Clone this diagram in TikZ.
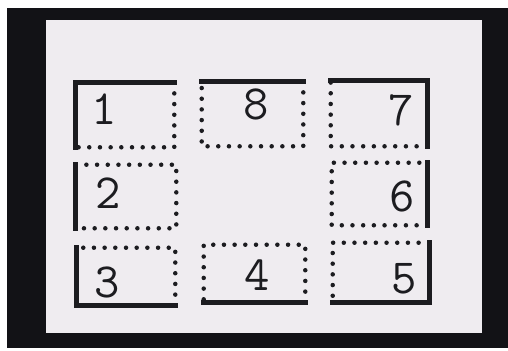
\documentclass[tikz,border=0pt]{standalone}
\usepackage{tikz}
\definecolor{paper}{RGB}{239,236,240}
\definecolor{framecol}{RGB}{18,18,22}
\definecolor{ink}{RGB}{28,28,32}

\begin{document}
\begin{tikzpicture}[
  x=0.25mm, y=-0.25mm,
  box/.style={                              % cell of the grid, sides drawn apart
    draw=none, rectangle, inner sep=0pt
  },
  wall/.style={draw=ink, line width=3.2pt, line cap=rect, line join=miter},
  gap/.style={                              % open side: a row of dots
    draw=ink, line width=3.2pt, line cap=round,
    dash pattern=on 0pt off 7.6pt
  },
  digit/.style={text=ink, font=\ttfamily\fontsize{35}{35}\selectfont, inner sep=0pt},
]

% ---- Frame and sheet ----
\useasboundingbox (0,0) rectangle (508,350);
\fill[white] (0,0) rectangle (508,350);
\fill[framecol] (7,8) rectangle (508,348);
\fill[paper] (46,20) rectangle (482,333);

% ---- Cells ----
\node (b1) at (125,115)   [box, minimum width=24.5mm,  minimum height=16mm]    {};
\node (b8) at (252.5,114) [box, minimum width=25.25mm, minimum height=16mm]    {};
\node (b7) at (379,113.5) [box, minimum width=24mm,    minimum height=16.25mm] {};

\node (b2) at (126,196.5) [box, minimum width=25mm,    minimum height=15.75mm] {};
\node (b6) at (379.5,194) [box, minimum width=23.75mm, minimum height=15.5mm]  {};

\node (b3) at (126,276.5) [box, minimum width=24.5mm,  minimum height=14.25mm] {};
\node (b4) at (254.5,273.5) [box, minimum width=25.25mm, minimum height=14.25mm] {};
\node (b5) at (381,272.5) [box, minimum width=24mm,    minimum height=14.75mm] {};

% ---- Numbers ----
\node (d1) at (104,109) [digit] {1};
\node (d8) at (256,104) [digit] {8};
\node (d7) at (401,110) [digit] {7};
\node (d2) at (108,193) [digit] {2};
\node (d6) at (402,196) [digit] {6};
\node (d3) at (107,282) [digit] {3};
\node (d4) at (257,275) [digit] {4};
\node (d5) at (404,279) [digit] {5};

% ---- Open sides (dotted) ----
\draw[gap] (b1.north east) -- (b1.south east) -- (b1.south west);
\draw[gap] (b8.north east) -- (b8.south east) -- (b8.south west) -- (b8.north west);
\draw[gap] (b7.south east) -- (b7.south west) -- (b7.north west);
\draw[gap] (b2.north west) -- (b2.north east) -- (b2.south east) -- (b2.south west);
\draw[gap] (b6.south east) -- (b6.south west) -- (b6.north west) -- (b6.north east);
\draw[gap] (b3.south east) -- (b3.north east) -- (b3.north west);
\draw[gap] (b4.south east) -- (b4.north east) -- (b4.north west) -- (b4.south west);
\draw[gap] (b5.north east) -- (b5.north west) -- (b5.south west);

% ---- Closed sides (solid) ----
\draw[wall] (b1.south west) -- (b1.north west) -- (b1.north east);
\draw[wall] (b8.north west) -- (b8.north east);
\draw[wall] (b7.north west) -- (b7.north east) -- (b7.south east);
\draw[wall] (b2.south west) -- (b2.north west);
\draw[wall] (b6.north east) -- (b6.south east);
\draw[wall] (b3.north west) -- (b3.south west) -- (b3.south east);
\draw[wall] (b4.south west) -- (b4.south east);
\draw[wall] (b5.south west) -- (b5.south east) -- (b5.north east);

\end{tikzpicture}
\end{document}
